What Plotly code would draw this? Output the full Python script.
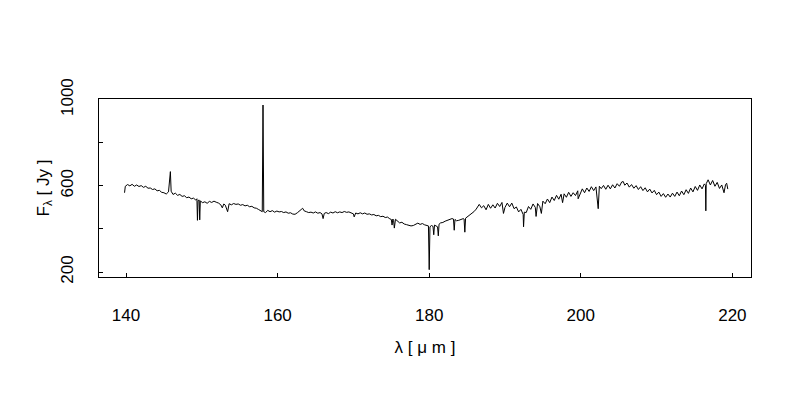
import plotly.graph_objects as go

# wavelength [micron] and flux [Jy]
wavelength_um = [
    139.8, 139.9, 140.2, 140.5, 140.8, 141.1, 141.4, 141.7, 142.0, 142.3, 142.6, 142.9,
    143.2, 143.5, 143.8, 144.1, 144.4, 144.7, 145.0, 145.3, 145.6,
    145.75, 145.85, 145.95, 146.2, 146.5, 146.8, 147.1, 147.4, 147.7, 148.0, 148.3, 148.6, 148.9, 149.2,
    149.35, 149.42, 149.5, 149.65, 149.72, 149.8,
    150.1, 150.4, 150.7, 151.0, 151.3, 151.6, 151.9, 152.2, 152.5,
    152.7, 152.9, 153.1, 153.4, 153.6, 153.9, 154.2, 154.5, 154.8, 155.1, 155.4, 155.7, 156.0, 156.3,
    156.6, 156.9, 157.2, 157.5, 157.8,
    157.97, 158.07, 158.17, 158.4, 158.7, 159.0, 159.3, 159.6, 159.9, 160.2, 160.5, 160.8, 161.1,
    161.4, 161.7, 162.0, 162.3, 162.6,
    162.9, 163.1, 163.3, 163.5, 163.8, 164.1, 164.4, 164.7, 165.0, 165.3, 165.6, 165.85, 166.0, 166.15,
    166.4, 166.7, 167.0, 167.3, 167.6, 167.9, 168.2, 168.5, 168.8, 169.1, 169.4, 169.7, 170.0, 170.1,
    170.3, 170.6, 170.9, 171.2, 171.5, 171.8, 172.1, 172.4, 172.7, 173.0, 173.3, 173.6, 173.9, 174.2,
    174.5, 174.8,
    175.0, 175.1, 175.2, 175.3, 175.4, 175.55, 175.8, 176.1, 176.4, 176.7, 177.0, 177.3, 177.6, 177.9,
    178.2, 178.5, 178.8, 179.1, 179.4, 179.7, 179.9, 180.0, 180.1, 180.3, 180.5, 180.6, 180.7, 180.9,
    181.1, 181.2, 181.3, 181.5,
    181.8, 182.1, 182.4, 182.7, 183.0, 183.2, 183.3, 183.4, 183.6, 183.9, 184.2, 184.5, 184.6, 184.7,
    184.8, 185.0, 185.3, 185.6, 185.9, 186.2, 186.4, 186.6, 186.9,
    187.2, 187.5, 187.8, 188.1, 188.4, 188.7, 189.0, 189.3, 189.6, 189.8, 190.0, 190.3, 190.6, 190.9,
    191.2, 191.5, 191.8, 192.1, 192.4, 192.45, 192.55, 192.8, 193.1, 193.4, 193.7, 194.0, 194.1, 194.3,
    194.6, 194.8, 195.0, 195.3, 195.6, 195.9, 196.2, 196.5, 196.8, 197.1, 197.4, 197.6, 197.8, 198.1,
    198.4, 198.7, 199.0, 199.3, 199.6, 199.65, 199.9, 200.2, 200.5, 200.8, 201.1, 201.4, 201.7, 202.0,
    202.3, 202.45, 202.7, 203.0, 203.3, 203.6, 203.9, 204.2, 204.5, 204.8, 205.1, 205.4, 205.6, 205.8,
    206.1, 206.4, 206.7, 207.0, 207.3, 207.6, 207.9, 208.2, 208.5, 208.8, 209.1, 209.4, 209.7, 210.0,
    210.3, 210.6, 210.9, 211.2, 211.5, 211.8, 212.1, 212.4, 212.7, 213.0, 213.3, 213.6, 213.9, 214.2,
    214.5, 214.8, 215.1, 215.4, 215.7, 216.0, 216.3, 216.45, 216.5, 216.55, 216.8, 217.1, 217.4, 217.7,
    218.0, 218.3, 218.6, 218.9, 219.1, 219.25, 219.4,
]

flux_jy = [
    568, 598, 606, 600, 607, 598, 604, 597, 601, 593, 598, 589,
    590, 583, 586, 577, 579, 570, 568, 562, 572,
    640, 666, 575, 560, 566, 556, 560, 551, 554, 545, 548, 540, 543, 534,
    540, 440, 532, 534, 442, 530,
    522, 526, 519, 528, 523, 529, 524, 520, 512,
    498, 516, 510, 480, 517, 512, 518, 514, 516, 510, 513, 507, 510, 503,
    505, 498, 496, 490, 482,
    480, 975, 480, 476, 486, 480, 485, 478, 483, 479, 481, 476, 479,
    473, 475, 469, 468, 475,
    482, 490, 496, 484, 480, 476, 478, 474, 479, 473, 476, 470, 448, 472,
    476, 471, 478, 474, 480, 475, 479, 476, 481, 477, 479, 474, 470, 456,
    474, 470, 475, 470, 474, 468, 470, 465, 467, 461, 463, 457, 459, 453,
    455, 447,
    444, 418, 446, 440, 404, 445, 436, 428, 431, 423, 420, 418, 414, 416,
    420, 427, 421, 425, 419, 418, 414, 211, 410, 416, 412, 373, 418, 414,
    410, 368, 422, 428,
    430, 436, 441, 444, 448, 446, 394, 444, 438, 440, 445, 448, 446, 385,
    450, 455, 462, 470, 480, 492, 506, 514, 498,
    508, 489, 514, 496, 512, 497, 519, 504, 523, 472, 500, 520, 503, 520,
    494, 502, 479, 491, 467, 410, 478, 476, 504, 491, 516, 500, 458, 518,
    503, 472, 529, 517, 539, 522, 548, 532, 556, 538, 561, 522, 563, 547,
    570, 551, 568, 555, 577, 540, 565, 586, 568, 590, 574, 596, 578, 595,
    494, 598, 587, 602, 584, 603, 586, 605, 590, 610, 598, 618, 620, 603,
    613, 594, 606, 589, 601, 583, 596, 578, 591, 572, 585, 567, 579, 559,
    571, 551, 564, 547, 562, 548, 566, 551, 571, 554, 576, 559, 582, 565,
    590, 572, 597, 579, 604, 586, 609, 602, 484, 610, 628, 604, 625, 598,
    616, 588, 604, 568, 606, 612, 585,
]

x_ticks = [140, 160, 180, 200, 220]
y_label_ticks = [200, 600, 1000]
y_minor_step = 200

font_family = "Liberation Sans, Arial, sans-serif"

fig = go.Figure()
fig.add_trace(go.Scatter(
    x=wavelength_um, y=flux_jy, mode="lines",
    line=dict(color="black", width=1),
    showlegend=False, hoverinfo="skip",
))

fig.update_layout(
    width=800, height=400,
    margin=dict(l=91, r=57, t=91, b=131),
    paper_bgcolor="white", plot_bgcolor="white",
    font=dict(family=font_family, size=17, color="black"),
)
fig.update_xaxes(
    range=[136.43, 222.46], tickvals=x_ticks,
    ticks="inside", ticklen=4, tickcolor="black",
    showline=True, linecolor="black", linewidth=1, mirror=True,
    showgrid=False, zeroline=False, automargin=False,
    ticklabelstandoff=23,
    title=dict(text="λ [ μ m ]", font=dict(size=17), standoff=16),
)
fig.update_yaxes(
    range=[177, 1003], tickvals=y_label_ticks,
    ticks="inside", ticklen=4, tickcolor="black", tickangle=-90,
    minor=dict(dtick=y_minor_step, tick0=0, ticks="inside", ticklen=4,
               tickcolor="black", showgrid=False),
    showline=True, linecolor="black", linewidth=1, mirror=True,
    showgrid=False, zeroline=False, automargin=False,
    ticklabelstandoff=18,
    title=dict(text="F<sub>λ</sub> [ Jy ]", font=dict(size=17), standoff=4),
)

fig.write_html("out.html")
